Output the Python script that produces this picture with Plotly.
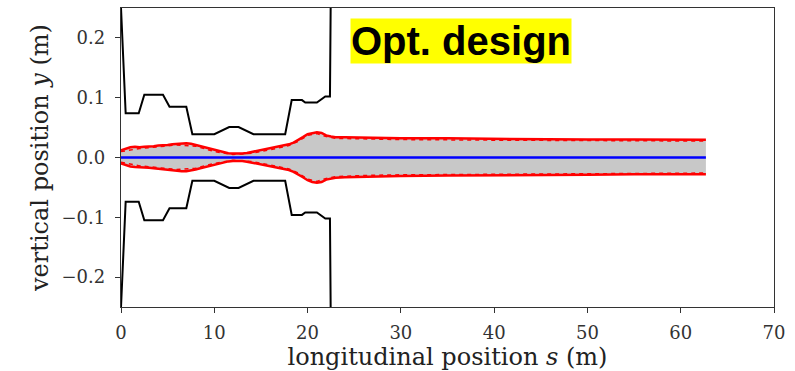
import plotly.graph_objects as go

# ---- data ----
s_env = [0, 0.5, 1, 1.5, 2, 2.5, 3, 3.5, 4, 4.5, 5, 5.5, 6, 6.5, 7, 7.5, 8, 8.5, 9, 9.5,
         10, 10.5, 11, 11.5, 12, 12.5, 13, 13.5, 14, 14.5, 15, 15.5, 16, 16.5, 17, 17.5,
         18, 18.5, 19, 19.5, 20, 20.5, 21, 21.5, 22, 22.5, 23, 24, 26, 30, 35, 40, 45,
         50, 55, 60, 62.7]
env_upper = [0.012, 0.015, 0.017, 0.018, 0.017, 0.018, 0.018, 0.019, 0.020, 0.020,
             0.021, 0.022, 0.023, 0.024, 0.024, 0.023, 0.021, 0.019, 0.017, 0.015,
             0.012, 0.010, 0.008, 0.007, 0.0065, 0.006, 0.0065, 0.0075, 0.009, 0.0105,
             0.012, 0.0135, 0.015, 0.017, 0.0185, 0.020, 0.022, 0.025, 0.029, 0.034,
             0.039, 0.041, 0.042, 0.041, 0.037, 0.035, 0.034, 0.034, 0.033, 0.032,
             0.032, 0.031, 0.031, 0.030, 0.030, 0.0295, 0.0295]
env_lower = [-0.010, -0.013, -0.015, -0.016, -0.016, -0.017, -0.017, -0.018, -0.019, -0.019,
             -0.020, -0.021, -0.022, -0.023, -0.023, -0.022, -0.020, -0.018, -0.016, -0.014,
             -0.012, -0.010, -0.008, -0.0065, -0.006, -0.0055, -0.006, -0.007, -0.0085, -0.010,
             -0.0115, -0.013, -0.0145, -0.016, -0.018, -0.0195, -0.021, -0.024, -0.028, -0.033,
             -0.038, -0.041, -0.042, -0.041, -0.037, -0.035, -0.034, -0.033, -0.032, -0.031,
             -0.030, -0.030, -0.029, -0.029, -0.028, -0.028, -0.028]

s_rms = [0, 2, 4, 6, 8, 10, 12, 14, 16, 18, 19, 20, 21, 22, 23, 26, 30, 40, 50, 62.7]
rms_upper = [0.010, 0.015, 0.018, 0.021, 0.019, 0.010, 0.005, 0.007, 0.013, 0.020,
             0.027, 0.037, 0.040, 0.035, 0.032, 0.031, 0.030, 0.029, 0.028, 0.0275]
rms_lower = [-0.008, -0.014, -0.017, -0.020, -0.018, -0.010, -0.0045, -0.0068, -0.0125, -0.019,
             -0.026, -0.036, -0.040, -0.035, -0.032, -0.030, -0.029, -0.028, -0.027, -0.026]

s_centroid = [0, 62.7]
centroid = [0, 0]

s_aper = [0, 0.5, 1.9, 2.5, 4.5, 5.2, 7.0, 7.65, 10.0, 11.6, 12.6, 14.2, 17.6, 18.3,
          19.4, 19.75, 21.0, 21.9, 22.4, 22.5]
aper_upper = [0.25, 0.074, 0.074, 0.105, 0.105, 0.085, 0.085, 0.039, 0.039, 0.051, 0.051,
              0.039, 0.039, 0.096, 0.096, 0.092, 0.092, 0.102, 0.102, 0.30]
aper_lower = [-0.25, -0.074, -0.074, -0.105, -0.105, -0.085, -0.085, -0.039, -0.039, -0.051, -0.051,
              -0.039, -0.039, -0.096, -0.096, -0.092, -0.092, -0.102, -0.102, -0.30]

x_ticks = [0, 10, 20, 30, 40, 50, 60, 70]
y_ticks = [-0.2, -0.1, 0.0, 0.1, 0.2]
y_tick_text = ["\u22120.2", "\u22120.1", "0.0", "0.1", "0.2"]
label_text = "Opt. design"

# ---- figure ----
fig = go.Figure()
fig.add_trace(go.Scatter(x=s_env, y=env_lower, mode="lines", line=dict(width=0),
                         showlegend=False, hoverinfo="skip"))
fig.add_trace(go.Scatter(x=s_env, y=env_upper, mode="lines", line=dict(width=0),
                         fill="tonexty", fillcolor="#c8c8c8", showlegend=False, hoverinfo="skip"))
for yv in (env_upper, env_lower):
    fig.add_trace(go.Scatter(x=s_env, y=yv, mode="lines", line=dict(color="#ff0000", width=2.5),
                             showlegend=False))
for yv in (rms_upper, rms_lower):
    fig.add_trace(go.Scatter(x=s_rms, y=yv, mode="lines",
                             line=dict(color="#ff0000", width=1.5, dash="4px,4px"),
                             showlegend=False))
fig.add_trace(go.Scatter(x=s_centroid, y=centroid, mode="lines",
                         line=dict(color="#0000ff", width=2.5), showlegend=False))
for yv in (aper_upper, aper_lower):
    fig.add_trace(go.Scatter(x=s_aper, y=yv, mode="lines",
                             line=dict(color="#000000", width=2), showlegend=False))

fig.add_annotation(x=36.5, y=0.195, xref="x", yref="y", text="<b>" + label_text + "</b>",
                   showarrow=False, bgcolor="#ffff00", borderpad=0,
                   font=dict(family="Liberation Sans, Arial", size=40, color="#000000"))

axis_font = dict(family="DejaVu Serif", size=18, color="#333333")
title_font = dict(family="DejaVu Serif", size=24, color="#222222")

fig.update_layout(
    width=795, height=371,
    margin=dict(l=121, r=21, t=8, b=64, autoexpand=False),
    paper_bgcolor="white", plot_bgcolor="white",
    xaxis=dict(range=[0, 70], tickvals=x_ticks, ticks="outside", ticklen=5, tickcolor="#333",
               ticklabelstandoff=4,
               showline=True, mirror=True, linecolor="#333", linewidth=1.3, showgrid=False,
               zeroline=False, tickfont=axis_font,
               title=dict(text="longitudinal position <i>s</i> (m)", font=title_font, standoff=6)),
    yaxis=dict(range=[-0.25, 0.25], tickvals=y_ticks, ticktext=y_tick_text, ticks="outside",
               ticklen=5, tickcolor="#333", ticklabelstandoff=6,
               showline=True, mirror=True, linecolor="#333",
               linewidth=1.3, showgrid=False, zeroline=False, tickfont=axis_font,
               title=dict(text="vertical position <i>y</i> (m)", font=title_font, standoff=6)),
)

fig.write_html("out.html", config={"displayModeBar": False},
               post_script="document.body.style.margin='0px';")
